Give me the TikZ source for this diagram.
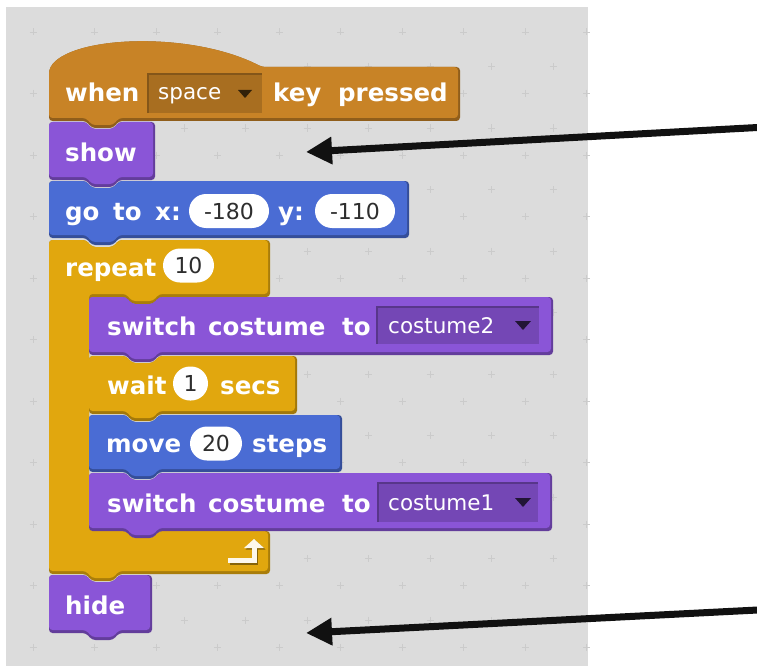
\documentclass[tikz,border=0pt]{standalone}
\usepackage{fontspec}
\setmainfont{DejaVu Sans}
\usetikzlibrary{arrows.meta,shapes.misc}

\definecolor{panel}{HTML}{DCDCDC}
\definecolor{gridc}{HTML}{CBCBCB}
\definecolor{evt}{HTML}{C88326}
\definecolor{looks}{HTML}{8A55D7}
\definecolor{motion}{HTML}{4A6CD4}
\definecolor{ctrl}{HTML}{E1A70E}
\definecolor{numtxt}{HTML}{2E2E2E}
\definecolor{pointer}{HTML}{111111}

% stack block: colour, left, right, top, bottom (notch on top, tab below)
\newcommand\cmdblock[5]{%
  \fill[#1!72!black, rounded corners=3.5pt]
    (#2,#4) -- (#2+37,#4) -- (#2+43,#4+7) -- (#2+64,#4+7) -- (#2+70,#4) -- (#3,#4)
    -- (#3,#5) -- (#2+70,#5) -- (#2+64,#5+7) -- (#2+43,#5+7) -- (#2+37,#5) -- (#2,#5) -- cycle;
  \fill[#1, rounded corners=3.5pt]
    (#2,#4) -- (#2+37,#4) -- (#2+43,#4+7) -- (#2+64,#4+7) -- (#2+70,#4) -- (#3-2,#4)
    -- (#3-2,#5-3) -- (#2+70,#5-3) -- (#2+64,#5+4) -- (#2+43,#5+4) -- (#2+37,#5-3) -- (#2,#5-3) -- cycle;
}

% inset dropdown field: name, fill, edge colour, centre, width, height
\newcommand\dropfield[6]{%
  \node[inner sep=0pt, fill=#2, minimum width=#5pt, minimum height=#6pt] (#1) at (#4) {};
  \draw[#3, line width=1.6pt] (#1.south west) -- (#1.north west) -- (#1.north east);
}

\tikzset{
  lbl/.style={anchor=base west, inner sep=0pt, text=white,
    font=\bfseries\fontsize{24.5}{28}\selectfont},
  ddtxt/.style={anchor=base west, inner sep=0pt, text=white,
    font=\fontsize{21.5}{26}\selectfont},
  numin/.style={rounded rectangle, fill=white, inner sep=0pt, text=numtxt,
    minimum height=34pt, font=\fontsize{22}{26}\selectfont},
  arrowline/.style={pointer, line width=7pt,
    -{Triangle[length=26pt,width=26pt]}},
}

\begin{document}
\begin{tikzpicture}[x=1pt,y=-1pt]
\useasboundingbox (0,0) rectangle (757,666);
\fill[white] (0,0) rectangle (757,666);

% scripts area with its faint grid of crosses
\fill[panel] (6,7) rectangle (588,666);
\foreach \i in {0,...,9}
  \foreach \j in {0,...,10}
    \draw[gridc, line width=0.9pt]
      ({33+61.5*\i-3.5},{32+61.5*\j}) -- ({33+61.5*\i+3.5},{32+61.5*\j})
      ({33+61.5*\i},{32+61.5*\j-3.5}) -- ({33+61.5*\i},{32+61.5*\j+3.5});
\foreach \i in {0,...,8}
  \foreach \j in {1,...,10}
    \draw[gridc, line width=0.9pt]
      ({61+61.5*\i-3.5},{5+61.5*\j}) -- ({61+61.5*\i+3.5},{5+61.5*\j})
      ({61+61.5*\i},{5+61.5*\j-3.5}) -- ({61+61.5*\i},{5+61.5*\j+3.5});

% hat block: when space key pressed
\fill[evt!72!black, rounded corners=3.5pt]
  (49,70) .. controls (68,36) and (190,30) .. (262,67) -- (460,67)
  -- (460,121) -- (119,121) -- (113,128) -- (92,128) -- (86,121) -- (49,121) -- cycle;
\fill[evt, rounded corners=3.5pt]
  (49,70) .. controls (68,36) and (190,30) .. (262,67) -- (458,67)
  -- (458,118) -- (119,118) -- (113,125) -- (92,125) -- (86,118) -- (49,118) -- cycle;
\node[lbl] (when) at (65,102) {when};
\dropfield{keydd}{evt!84!black}{evt!66!black}{205,93.5}{114}{39}
\node[ddtxt] (keyname) at (158,100) {space};
\fill[black!75!evt] (238,90) -- (252,90) -- (245,98) -- cycle;
\node[lbl] (key) at (273,102) {key};
\node[lbl] (pressed) at (338,102) {pressed};

% show
\cmdblock{looks}{49}{155}{122}{180}
\node[lbl] (show) at (65,161) {show};

% go to x: y:
\cmdblock{motion}{49}{409}{181}{238}
\node[lbl] (go) at (65,220) {go};
\node[lbl] (goto) at (113,220) {to};
\node[lbl] (gx) at (155,220) {x:};
\node[numin, minimum width=80pt] (xval) at (229,211) {-180};
\node[lbl] (gy) at (278,220) {y:};
\node[numin, minimum width=80pt] (yval) at (355,211) {-110};

% repeat loop (C block)
\fill[ctrl!75!black, rounded corners=3.5pt]
  (49,240) -- (86,240) -- (92,247) -- (113,247) -- (119,240) -- (270,240)
  -- (270,297) -- (159,297) -- (153,304) -- (132,304) -- (126,297) -- (89,297)
  -- (89,531) -- (126,531) -- (132,538) -- (153,538) -- (159,531) -- (270,531)
  -- (270,574) -- (119,574) -- (113,581) -- (92,581) -- (86,574) -- (49,574) -- cycle;
\fill[ctrl, rounded corners=3.5pt]
  (49,240) -- (86,240) -- (92,247) -- (113,247) -- (119,240) -- (268,240)
  -- (268,294) -- (159,294) -- (153,301) -- (132,301) -- (126,294) -- (89,294)
  -- (89,531) -- (126,531) -- (132,538) -- (153,538) -- (159,531) -- (268,531)
  -- (268,571) -- (119,571) -- (113,578) -- (92,578) -- (86,571) -- (49,571) -- cycle;
\node[lbl] (repeat) at (65,276) {repeat};
\node[numin, minimum width=51pt] (count) at (188.5,265.5) {10};
% loop-back arrow on the bottom arm
\begin{scope}[shift={(1.5,1.5)}]
  \draw[ctrl!60!black, line width=5pt] (228,560.5) -- (254,560.5) -- (254,547);
  \fill[ctrl!60!black] (244,548) -- (264,548) -- (254,539) -- cycle;
\end{scope}
\draw[white!92!ctrl, line width=5pt] (228,560.5) -- (254,560.5) -- (254,547);
\fill[white!92!ctrl] (244,548) -- (264,548) -- (254,539) -- cycle;

% switch costume to costume2
\cmdblock{looks}{89}{553}{297}{355}
\node[lbl] (sw1) at (107,335) {switch};
\node[lbl] (cos1) at (208,335) {costume};
\node[lbl] (to1) at (342,335) {to};
\dropfield{dd1}{looks!84!black}{looks!64!black}{458,325.5}{162}{37}
\node[ddtxt] (c2) at (388,333) {costume2};
\fill[black!75!looks] (515,321) -- (531,321) -- (523,330) -- cycle;

% wait 1 secs
\cmdblock{ctrl}{89}{297}{356}{414}
\node[lbl] (wait) at (107,394) {wait};
\node[numin, minimum width=35pt] (secs) at (190.5,383.5) {1};
\node[lbl] (secsw) at (220,394) {secs};

% move 20 steps
\cmdblock{motion}{89}{342}{415}{472}
\node[lbl] (move) at (106,452) {move};
\node[numin, minimum width=52pt] (steps) at (216,443.5) {20};
\node[lbl] (stepsw) at (252,452) {steps};

% switch costume to costume1
\cmdblock{looks}{89}{552}{473}{531}
\node[lbl] (sw2) at (107,512) {switch};
\node[lbl] (cos2) at (208,512) {costume};
\node[lbl] (to2) at (342,512) {to};
\dropfield{dd2}{looks!84!black}{looks!64!black}{458,502.5}{160}{39}
\node[ddtxt] (c1) at (388,510) {costume1};
\fill[black!75!looks] (515,498) -- (531,498) -- (523,507) -- cycle;

% hide
\cmdblock{looks}{49}{152}{575}{633}
\node[lbl] (hide) at (65,614) {hide};

% pointers
\coordinate (p1from) at (757.5,127.5);
\coordinate (p1to) at (306,152);
\coordinate (p2from) at (757.5,610);
\coordinate (p2to) at (306,633);
\draw[arrowline] (p1from) -- (p1to);
\draw[arrowline] (p2from) -- (p2to);
\end{tikzpicture}
\end{document}
